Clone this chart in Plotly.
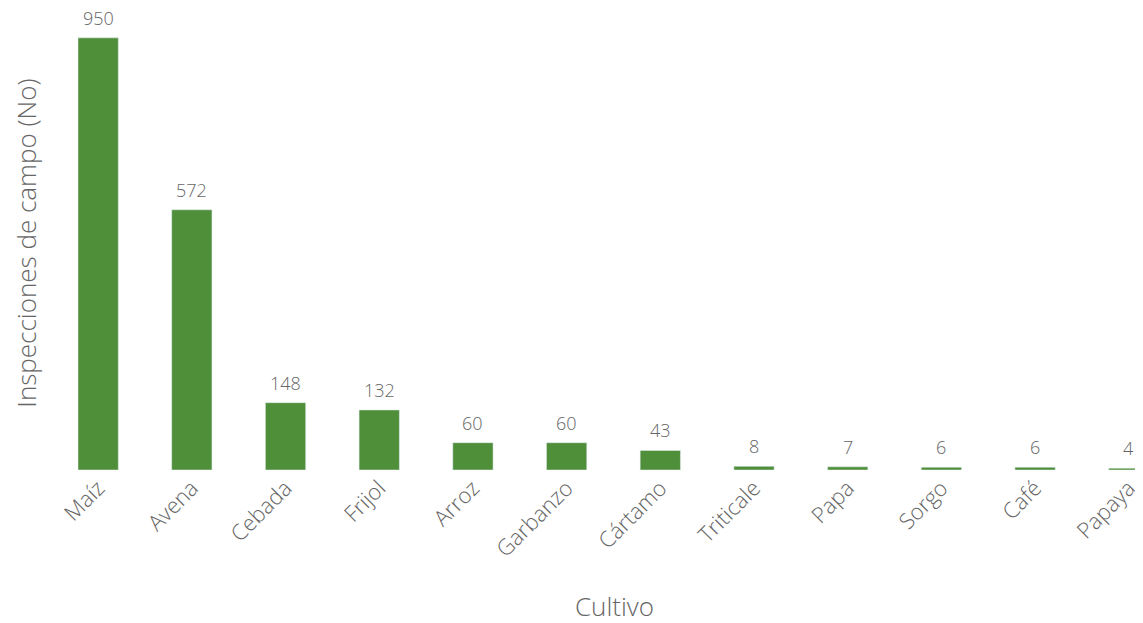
import plotly.graph_objects as go

cultivos = ["Maíz", "Avena", "Cebada", "Frijol", "Arroz", "Garbanzo", "Cártamo",
            "Triticale", "Papa", "Sorgo", "Café", "Papaya"]
inspecciones = [950, 572, 148, 132, 60, 60, 43, 8, 7, 6, 6, 4]

FONT = "'Open Sans', Lato, sans-serif"
GRAY = "#666666"

fig = go.Figure(go.Bar(
    x=cultivos, y=inspecciones,
    marker_color="#4f8f3a",
    cliponaxis=False,
))

for c, v in zip(cultivos, inspecciones):
    fig.add_annotation(x=c, y=v, text=str(v), showarrow=False,
                       yanchor="bottom", yshift=6,
                       font=dict(family=FONT, size=18, color=GRAY, weight=300))

fig.update_layout(
    width=1143, height=623,
    margin=dict(l=70, r=0, t=8, b=161),
    plot_bgcolor="white", paper_bgcolor="white",
    bargap=0.57,
    showlegend=False,
    font=dict(family=FONT, color=GRAY),
    xaxis=dict(
        range=[-0.215, 11.237],
        tickangle=-45,
        tickfont=dict(family=FONT, size=22, color=GRAY, weight=300),
        showgrid=False, showline=False, zeroline=False, ticks="",
        title=dict(text="Cultivo", font=dict(family=FONT, size=26, color=GRAY, weight=300), standoff=36),
    ),
    yaxis=dict(
        range=[0, 998],
        showticklabels=False, showgrid=False, zeroline=False, showline=False, ticks="",
        title=dict(text="Inspecciones de campo (No)", font=dict(family=FONT, size=26, color=GRAY, weight=300), standoff=38),
    ),
)

fig.write_html("out.html")
